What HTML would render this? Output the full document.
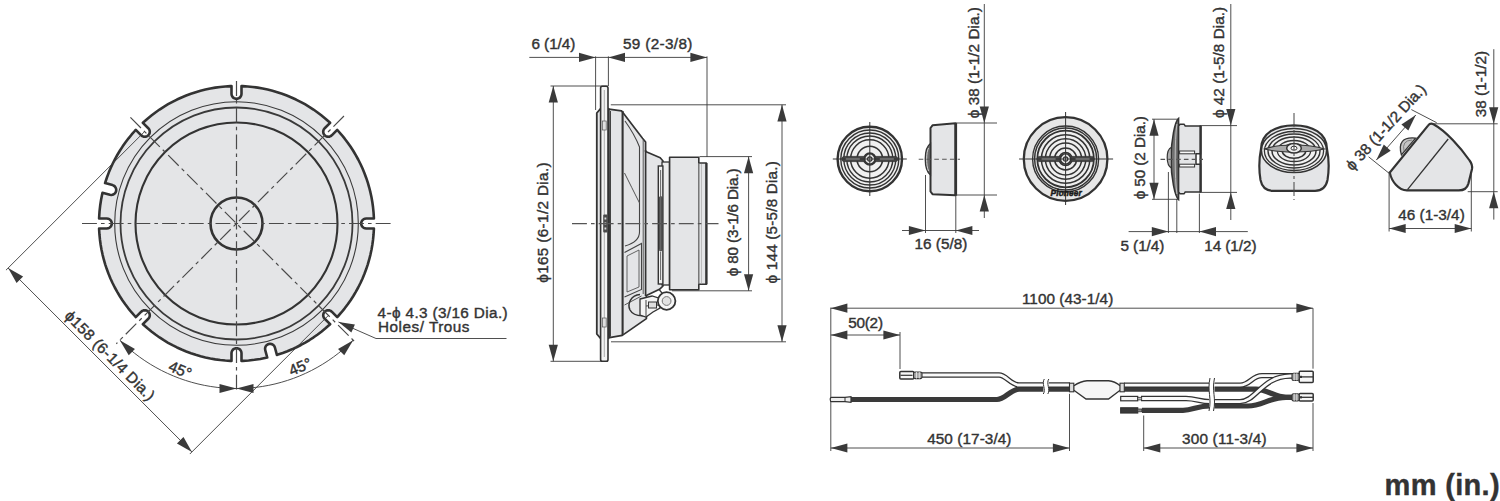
<!DOCTYPE html>
<html><head><meta charset="utf-8"><style>
html,body{margin:0;padding:0;background:#fff;}
svg{display:block;}
text{font-family:"Liberation Sans",sans-serif;stroke:#333;stroke-width:0.4px;}
</style></head><body>
<svg width="1500" height="501" viewBox="0 0 1500 501">
<rect width="1500" height="501" fill="#fff"/>
<polygon points="373.91,228.5 366.2,228.5 364.91,228.33 363.7,227.83 362.66,227.04 361.87,226 361.37,224.79 361.2,223.5 361.37,222.21 361.87,221 362.66,219.96 363.7,219.17 364.91,218.67 366.2,218.5 373.91,218.5 373.86,217.3 373.54,212.28 373.04,207.27 372.35,202.29 371.49,197.34 370.44,192.41 369.21,187.54 367.81,182.71 366.23,177.93 364.47,173.21 362.55,168.57 360.46,163.99 358.2,159.5 355.77,155.09 353.19,150.77 350.45,146.55 347.56,142.43 344.52,138.43 341.34,134.53 338.01,130.75 337.2,129.87 331.75,135.32 330.71,136.12 329.51,136.62 328.21,136.79 326.92,136.62 325.71,136.12 324.68,135.32 323.88,134.29 323.38,133.08 323.21,131.79 323.38,130.49 323.88,129.29 324.68,128.25 330.13,122.8 329.25,121.99 325.47,118.66 321.57,115.48 317.57,112.44 313.45,109.55 309.23,106.81 304.91,104.23 300.5,101.8 296.01,99.54 291.43,97.45 286.79,95.53 282.07,93.77 277.29,92.19 272.46,90.79 267.59,89.56 262.66,88.51 257.71,87.65 252.73,86.96 247.72,86.46 242.7,86.14 241.5,86.09 241.5,93.8 241.33,95.09 240.83,96.3 240.04,97.34 239,98.13 237.79,98.63 236.5,98.8 235.21,98.63 234,98.13 232.96,97.34 232.17,96.3 231.67,95.09 231.5,93.8 231.5,86.09 230.3,86.14 225.28,86.46 220.27,86.96 215.29,87.65 210.34,88.51 205.41,89.56 200.54,90.79 195.71,92.19 190.93,93.77 186.21,95.53 181.57,97.45 176.99,99.54 172.5,101.8 168.09,104.23 163.77,106.81 159.55,109.55 155.43,112.44 151.43,115.48 147.53,118.66 143.75,121.99 142.87,122.8 148.32,128.25 149.12,129.29 149.62,130.49 149.79,131.79 149.62,133.08 149.12,134.29 148.32,135.32 147.29,136.12 146.08,136.62 144.79,136.79 143.49,136.62 142.29,136.12 141.25,135.32 135.8,129.87 134.99,130.75 131.71,134.48 128.56,138.32 125.55,142.28 122.69,146.34 119.98,150.5 117.42,154.75 115.02,159.09 112.77,163.52 110.69,168.03 108.76,172.61 107.01,177.25 105.42,181.96 105.07,183.11 112.51,185.1 113.72,185.6 114.75,186.4 115.55,187.43 116.05,188.64 116.22,189.93 116.05,191.23 115.55,192.43 114.75,193.47 113.72,194.26 112.51,194.76 111.22,194.93 109.93,194.76 102.48,192.77 102.22,193.94 101.07,199.72 100.18,205.55 99.53,211.42 99.14,217.3 99.09,218.5 106.8,218.5 108.09,218.67 109.3,219.17 110.34,219.96 111.13,221 111.63,222.21 111.8,223.5 111.63,224.79 111.13,226 110.34,227.04 109.3,227.83 108.09,228.33 106.8,228.5 99.09,228.5 99.14,229.7 99.46,234.72 99.96,239.73 100.65,244.71 101.51,249.66 102.56,254.59 103.79,259.46 105.19,264.29 106.77,269.07 108.53,273.79 110.45,278.43 112.54,283.01 114.8,287.5 117.23,291.91 119.81,296.23 122.55,300.45 125.44,304.57 128.48,308.57 131.66,312.47 134.99,316.25 135.8,317.13 141.25,311.68 142.29,310.88 143.49,310.38 144.79,310.21 146.08,310.38 147.29,310.88 148.32,311.68 149.12,312.71 149.62,313.92 149.79,315.21 149.62,316.51 149.12,317.71 148.32,318.75 142.87,324.2 143.75,325.01 147.53,328.34 151.43,331.52 155.43,334.56 159.55,337.45 163.77,340.19 168.09,342.77 172.5,345.2 176.99,347.46 181.57,349.55 186.21,351.47 190.93,353.23 195.71,354.81 200.54,356.21 205.41,357.44 210.34,358.49 215.29,359.35 220.27,360.04 225.28,360.54 230.3,360.86 231.5,360.91 231.5,353.2 231.67,351.91 232.17,350.7 232.96,349.66 234,348.87 235.21,348.37 236.5,348.2 237.79,348.37 239,348.87 240.04,349.66 240.83,350.7 241.33,351.91 241.5,353.2 241.5,360.91 242.7,360.86 248.58,360.47 254.45,359.82 260.28,358.93 266.06,357.78 267.23,357.52 265.24,350.07 265.07,348.78 265.24,347.49 265.74,346.28 266.53,345.25 267.57,344.45 268.77,343.95 270.07,343.78 271.36,343.95 272.57,344.45 273.6,345.25 274.4,346.28 274.9,347.49 276.89,354.93 278.04,354.58 282.75,352.99 287.39,351.24 291.97,349.31 296.48,347.23 300.91,344.98 305.25,342.58 309.5,340.02 313.66,337.31 317.72,334.45 321.68,331.44 325.52,328.29 329.25,325.01 330.13,324.2 324.68,318.75 323.88,317.71 323.38,316.51 323.21,315.21 323.38,313.92 323.88,312.71 324.68,311.68 325.71,310.88 326.92,310.38 328.21,310.21 329.51,310.38 330.71,310.88 331.75,311.68 337.2,317.13 338.01,316.25 341.34,312.47 344.52,308.57 347.56,304.57 350.45,300.45 353.19,296.23 355.77,291.91 358.2,287.5 360.46,283.01 362.55,278.43 364.47,273.79 366.23,269.07 367.81,264.29 369.21,259.46 370.44,254.59 371.49,249.66 372.35,244.71 373.04,239.73 373.54,234.72 373.86,229.7" stroke="#333" stroke-width="2.6" fill="#e4e5e7" stroke-linejoin="round" />
<circle cx="236.5" cy="223.5" r="121.8" stroke="#3a3a3a" stroke-width="1.1" fill="none" />
<circle cx="236.5" cy="223.5" r="116" stroke="#3a3a3a" stroke-width="1.8" fill="none" />
<circle cx="236.5" cy="223.5" r="101" stroke="#333" stroke-width="2.1" fill="none" />
<circle cx="236.5" cy="223.5" r="26" stroke="#333" stroke-width="2.6" fill="none" />
<line x1="82" y1="223.5" x2="391" y2="223.5" stroke="#4a4a4a" stroke-width="1.2" stroke-dasharray="14.9 4.1 3.6 4.1" stroke-dashoffset="0"/>
<line x1="236.5" y1="81" x2="236.5" y2="391" stroke="#4a4a4a" stroke-width="1.2" stroke-dasharray="14.9 4.1 3.6 4.1" stroke-dashoffset="0"/>
<line x1="343.98" y1="116.02" x2="116.29" y2="343.71" stroke="#4a4a4a" stroke-width="1.2" stroke-dasharray="14.9 4.1 3.6 4.1" stroke-dashoffset="0"/>
<line x1="130.43" y1="117.43" x2="354.59" y2="341.59" stroke="#4a4a4a" stroke-width="1.2" stroke-dasharray="14.9 4.1 3.6 4.1" stroke-dashoffset="0"/>
<line x1="144.58" y1="131.58" x2="5.98" y2="270.17" stroke="#3b3b3b" stroke-width="0.9" />
<line x1="328.42" y1="315.42" x2="189.83" y2="454.02" stroke="#3b3b3b" stroke-width="0.9" />
<line x1="8.1" y1="268.05" x2="191.95" y2="451.9" stroke="#3b3b3b" stroke-width="0.9" />
<polygon points="8.1,268.05 23.1,276.53 16.59,283.04" fill="#3a3a3a"/>
<polygon points="191.95,451.9 176.96,443.41 183.47,436.9" fill="#3a3a3a"/>
<text transform="translate(110.1 355.3) rotate(45)" x="0" y="5.51" font-size="15.3" text-anchor="middle" font-weight="normal" fill="#333333"  textLength="120" lengthAdjust="spacing">ϕ158 (6-1/4 Dia.)</text>
<polyline points="119.83,340.17 124.5,344.66 129.34,348.97 134.35,353.08 139.52,356.99 144.83,360.69 150.29,364.19 155.88,367.46 161.59,370.52 167.42,373.34 173.36,375.94 179.39,378.3 185.51,380.42 191.71,382.31 197.98,383.94 204.31,385.33 210.69,386.47 217.11,387.36 223.55,387.99 230.02,388.37 236.5,388.5 242.98,388.37 249.45,387.99 255.89,387.36 262.31,386.47 268.69,385.33 275.02,383.94 281.29,382.31 287.49,380.42 293.61,378.3 299.64,375.94 305.58,373.34 311.41,370.52 317.12,367.46 322.71,364.19 328.17,360.69 333.48,356.99 338.65,353.08 343.66,348.97 348.5,344.66 353.17,340.17" stroke="#3b3b3b" stroke-width="0.9" fill="none" stroke-linejoin="round" />
<polygon points="119.83,340.17 134.96,349.08 128.74,355.3" fill="#3a3a3a"/>
<polygon points="236.5,388.5 219.5,392.9 219.5,384.1" fill="#3a3a3a"/>
<polygon points="236.5,388.5 253.5,384.1 253.5,392.9" fill="#3a3a3a"/>
<polygon points="353.17,340.17 344.26,355.3 338.04,349.08" fill="#3a3a3a"/>
<text transform="translate(180.2 369.6) rotate(22.5)" x="0" y="5.51" font-size="15.3" text-anchor="middle" font-weight="normal" fill="#333333" >45°</text>
<text transform="translate(300 366.6) rotate(-22.5)" x="0" y="5.51" font-size="15.3" text-anchor="middle" font-weight="normal" fill="#333333" >45°</text>
<line x1="338.5" y1="322" x2="376" y2="338.5" stroke="#3b3b3b" stroke-width="0.9" />
<line x1="376" y1="338.5" x2="506.5" y2="338.5" stroke="#3b3b3b" stroke-width="0.9" />
<polygon points="338.5,322 354.92,324.42 351.37,332.47" fill="#3a3a3a"/>
<text x="377.6" y="317.6" font-size="15.3" text-anchor="start" font-weight="normal" fill="#333333"  textLength="130" lengthAdjust="spacing">4-ϕ 4.3 (3/16 Dia.)</text>
<text x="378" y="332" font-size="15.3" text-anchor="start" font-weight="normal" fill="#333333"  textLength="91.5" lengthAdjust="spacing">Holes/ Trous</text>
<line x1="595.6" y1="56.4" x2="595.6" y2="110" stroke="#3b3b3b" stroke-width="0.9" />
<line x1="608.4" y1="56.4" x2="608.4" y2="86" stroke="#3b3b3b" stroke-width="0.9" />
<line x1="707" y1="56.4" x2="707" y2="157" stroke="#3b3b3b" stroke-width="0.9" />
<line x1="529.3" y1="57.4" x2="595.6" y2="57.4" stroke="#3b3b3b" stroke-width="0.9" />
<line x1="595.6" y1="57.4" x2="608.4" y2="57.4" stroke="#3b3b3b" stroke-width="0.9" />
<line x1="608.4" y1="57.4" x2="707" y2="57.4" stroke="#3b3b3b" stroke-width="0.9" />
<polygon points="595.6,57.4 579,62 579,52.8" fill="#3a3a3a"/>
<polygon points="608.4,57.4 625,52.8 625,62" fill="#3a3a3a"/>
<polygon points="707,57.4 690.4,62 690.4,52.8" fill="#3a3a3a"/>
<text x="531.5" y="49.3" font-size="15.3" text-anchor="start" font-weight="normal" fill="#333333"  textLength="43.8" lengthAdjust="spacing">6 (1/4)</text>
<text x="622.9" y="49.3" font-size="15.3" text-anchor="start" font-weight="normal" fill="#333333"  textLength="69.5" lengthAdjust="spacing">59 (2-3/8)</text>
<line x1="550.5" y1="86" x2="608" y2="86" stroke="#3b3b3b" stroke-width="0.9" />
<line x1="550.5" y1="361.3" x2="608" y2="361.3" stroke="#3b3b3b" stroke-width="0.9" />
<line x1="553.3" y1="86" x2="553.3" y2="361.3" stroke="#3b3b3b" stroke-width="0.9" />
<polygon points="553.3,86 557.9,102.5 548.7,102.5" fill="#3a3a3a"/>
<polygon points="553.3,361.3 548.7,344.8 557.9,344.8" fill="#3a3a3a"/>
<text transform="translate(542.9 222.55) rotate(-90)" x="0" y="5.51" font-size="15.3" text-anchor="middle" font-weight="normal" fill="#333333"  textLength="120.5" lengthAdjust="spacing">ϕ165 (6-1/2 Dia.)</text>
<line x1="610.8" y1="104.8" x2="786" y2="104.8" stroke="#3b3b3b" stroke-width="0.9" />
<line x1="611" y1="341.8" x2="786" y2="341.8" stroke="#3b3b3b" stroke-width="0.9" />
<line x1="782" y1="104.8" x2="782" y2="341.8" stroke="#3b3b3b" stroke-width="0.9" />
<polygon points="782,104.8 786.6,121.4 777.4,121.4" fill="#3a3a3a"/>
<polygon points="782,341.8 777.4,325.2 786.6,325.2" fill="#3a3a3a"/>
<text transform="translate(771.5 222.3) rotate(-90)" x="0" y="5.51" font-size="15.3" text-anchor="middle" font-weight="normal" fill="#333333"  textLength="122.2" lengthAdjust="spacing">ϕ 144 (5-5/8 Dia.)</text>
<line x1="699.5" y1="156.6" x2="752" y2="156.6" stroke="#3b3b3b" stroke-width="0.9" />
<line x1="672" y1="290.8" x2="752" y2="290.8" stroke="#3b3b3b" stroke-width="0.9" />
<line x1="748.6" y1="156.6" x2="748.6" y2="290.8" stroke="#3b3b3b" stroke-width="0.9" />
<polygon points="748.6,156.6 753.2,173.2 744,173.2" fill="#3a3a3a"/>
<polygon points="748.6,290.8 744,274.2 753.2,274.2" fill="#3a3a3a"/>
<text transform="translate(732.1 222.3) rotate(-90)" x="0" y="5.51" font-size="15.3" text-anchor="middle" font-weight="normal" fill="#333333"  textLength="107.8" lengthAdjust="spacing">ϕ 80 (3-1/6 Dia.)</text>
<polygon points="596.8,113 600.6,108.6 608.5,108.6 608.5,338.4 600.6,338.4 596.8,334" stroke="#333" stroke-width="1.8" fill="#e4e5e7" stroke-linejoin="round" />
<rect x="600.6" y="86.3" width="7.4" height="275" rx="1.8" fill="#f3f3f3" stroke="#333" stroke-width="1.6"/>
<line x1="604.3" y1="90" x2="604.3" y2="357" stroke="#999" stroke-width="0.8" />
<rect x="602.6" y="121" width="3.6" height="9" fill="#e0e0e0" stroke="#555" stroke-width="0.7"/>
<rect x="602.6" y="318" width="3.6" height="9" fill="#e0e0e0" stroke="#555" stroke-width="0.7"/>
<rect x="603.2" y="214.5" width="4.4" height="18" rx="1" fill="#4a4a4a"/>
<rect x="604.5" y="217.5" width="1.8" height="2" fill="#ddd"/>
<rect x="604.5" y="222.5" width="1.8" height="2" fill="#ddd"/>
<rect x="604.5" y="227.5" width="1.8" height="2" fill="#ddd"/>
<polygon points="608.8,109.2 621.5,110.8 642.5,138.2 645.6,142 645.6,151.5 660.2,157.8 663,161 663,286 659.5,289.3 646.4,295.6 646.4,318.6 622.3,335.4 609.5,337.6" stroke="#333" stroke-width="1.7" fill="#e4e5e7" stroke-linejoin="round" />
<line x1="610.4" y1="111" x2="610.4" y2="336.5" stroke="#444" stroke-width="1.2" />
<line x1="622.6" y1="111" x2="622.6" y2="335" stroke="#333" stroke-width="2.1" />
<line x1="643.2" y1="140" x2="643.2" y2="294" stroke="#555" stroke-width="1.0" />
<line x1="645.6" y1="150" x2="645.6" y2="296" stroke="#333" stroke-width="1.7" />
<path d="M625,121 C630,128 636,138 639.5,147 L639.5,232 C639.5,240 632,244 625,246" stroke="#444" stroke-width="1.1" fill="none" />
<path d="M624.5,173 C629,182 634,192 639.5,203" stroke="#555" stroke-width="1.0" fill="none" />
<path d="M624.5,252.5 L641.5,243.5 L641.5,289.5 L624.5,297" stroke="#444" stroke-width="1.1" fill="none" />
<path d="M627,256 L639,250 L639,287 L627,292 Z" stroke="#555" stroke-width="0.9" fill="none" />
<path d="M624.5,305 L641.5,296" stroke="#555" stroke-width="1.0" fill="none" />
<rect x="662" y="162" width="7.5" height="123" fill="#ececec" stroke="#333" stroke-width="1.3"/>
<rect x="658.3" y="166" width="4.6" height="118" fill="#f0f0f0" stroke="#333" stroke-width="1.4"/>
<rect x="659.4" y="196.5" width="2.6" height="54.5" rx="1.3" fill="#666" stroke="#333" stroke-width="0.8"/>
<line x1="660.6" y1="170" x2="660.6" y2="196" stroke="#666" stroke-width="1.0" />
<line x1="660.6" y1="252" x2="660.6" y2="280" stroke="#666" stroke-width="1.0" />
<polygon points="669.6,157.2 698.8,157.2 698.8,163 706.4,163 706.4,284.3 698.8,284.3 698.8,289.8 669.6,289.8" stroke="#333" stroke-width="1.6" fill="#e4e5e7" stroke-linejoin="round" />
<line x1="706.4" y1="163" x2="706.4" y2="284.3" stroke="#333" stroke-width="2.2" />
<line x1="698.8" y1="163" x2="698.8" y2="284.3" stroke="#666" stroke-width="1.3" />
<line x1="701.5" y1="164" x2="701.5" y2="283.5" stroke="#aaa" stroke-width="0.7" />
<path d="M640,294.5 C631,295 627,304 630,310 C633,315.5 640,316 645.3,315.5" stroke="#333" stroke-width="1.5" fill="none" />
<path d="M640,299 L652,296 L660,298.5 L660,308 L653,312 L646,317 L640,315 Z" fill="#f4f4f4" stroke="#333" stroke-width="1.3"/>
<line x1="646" y1="300" x2="646" y2="316" stroke="#444" stroke-width="1.0" />
<line x1="646" y1="306" x2="659" y2="305" stroke="#444" stroke-width="1.0" />
<rect x="648.5" y="302" width="8" height="6" fill="#ddd" stroke="#333" stroke-width="1"/>
<circle cx="666.6" cy="301" r="8.8" stroke="#333" stroke-width="1.8" fill="#f6f6f6" />
<circle cx="666.6" cy="301" r="4.4" stroke="#777" stroke-width="1.0" fill="#e2e2e2" />
<line x1="659" y1="289.3" x2="662" y2="293" stroke="#333" stroke-width="1.3" />
<line x1="572" y1="223.7" x2="718.5" y2="223.7" stroke="#555" stroke-width="1.2" stroke-dasharray="14.9 4.1 3.6 4.1" stroke-dashoffset="0"/>
<circle cx="869.8" cy="159" r="33.3" stroke="none" stroke-width="0" fill="#f0f0f0" />
<circle cx="869.8" cy="159" r="32.2" stroke="#333" stroke-width="2.4" fill="none" />
<circle cx="869.8" cy="159" r="29" stroke="#333" stroke-width="1.4" fill="none" />
<circle cx="869.8" cy="159" r="26" stroke="#333" stroke-width="1.4" fill="none" />
<circle cx="869.8" cy="159" r="23" stroke="#333" stroke-width="1.4" fill="none" />
<circle cx="869.8" cy="159" r="19.2" stroke="#333" stroke-width="1.5" fill="none" />
<circle cx="869.8" cy="159" r="12.8" stroke="#333" stroke-width="1.6" fill="none" />
<circle cx="869.8" cy="159" r="6" stroke="#333" stroke-width="1.5" fill="#ccc" />
<rect x="841.8" y="156.4" width="56" height="5.2" rx="2.6" fill="#444" stroke="#333" stroke-width="0.8"/>
<rect x="845.8" y="158.1" width="14" height="1.8" fill="#aaa"/>
<rect x="879.8" y="158.1" width="14" height="1.8" fill="#aaa"/>
<circle cx="869.8" cy="159" r="5.2" stroke="#333" stroke-width="1.6" fill="#e8e8e8" />
<circle cx="869.8" cy="159" r="2.2" stroke="#333" stroke-width="1.2" fill="#fff" />
<line x1="869.8" y1="122" x2="869.8" y2="196" stroke="#333" stroke-width="1.0" />
<line x1="832.8" y1="159" x2="906.8" y2="159" stroke="#333" stroke-width="1.0" />
<polygon points="930.5,128 932.5,125.3 955.5,123.3 955.5,195.3 932.5,194.2 930.5,191.5" stroke="#333" stroke-width="2.0" fill="#e4e5e7" stroke-linejoin="round" />
<line x1="955.8" y1="123" x2="955.8" y2="195.5" stroke="#333" stroke-width="2.6" />
<path d="M930.5,143.5 C923.5,148 923.5,170 930.5,175 Z" stroke="#333" stroke-width="1.3" fill="#6a6a6a" />
<path d="M928.6,148 C926,152 926,166 928.6,171" stroke="#cfcfcf" stroke-width="1.0" fill="none" />
<line x1="918.7" y1="159.3" x2="960" y2="159.3" stroke="#555" stroke-width="1.1" stroke-dasharray="4.6 3.2"/>
<line x1="956" y1="123" x2="997" y2="123" stroke="#3b3b3b" stroke-width="0.9" />
<line x1="956" y1="195" x2="997" y2="195" stroke="#3b3b3b" stroke-width="0.9" />
<line x1="984.3" y1="4" x2="984.3" y2="218" stroke="#3b3b3b" stroke-width="0.9" />
<polygon points="984.3,123 979.7,106.4 988.9,106.4" fill="#3a3a3a"/>
<polygon points="984.3,195 988.9,211.6 979.7,211.6" fill="#3a3a3a"/>
<text transform="translate(973.1 62.7) rotate(-90)" x="0" y="5.51" font-size="15.3" text-anchor="middle" font-weight="normal" fill="#333333"  textLength="111" lengthAdjust="spacing">ϕ 38 (1-1/2 Dia.)</text>
<line x1="925.5" y1="175" x2="925.5" y2="233" stroke="#3b3b3b" stroke-width="0.9" />
<line x1="955.8" y1="195" x2="955.8" y2="233" stroke="#3b3b3b" stroke-width="0.9" />
<line x1="902" y1="230.5" x2="979" y2="230.5" stroke="#3b3b3b" stroke-width="0.9" />
<polygon points="925.5,230.5 908.9,235.1 908.9,225.9" fill="#3a3a3a"/>
<polygon points="955.8,230.5 972.4,225.9 972.4,235.1" fill="#3a3a3a"/>
<text x="914.5" y="248.7" font-size="15.3" text-anchor="start" font-weight="normal" fill="#333333"  textLength="52.8" lengthAdjust="spacing">16 (5/8)</text>
<circle cx="1065.6" cy="159" r="41.8" stroke="#333" stroke-width="2.3" fill="#e6e6e6" />
<circle cx="1065.6" cy="159" r="33" stroke="#333" stroke-width="1.4" fill="#efefef" />
<circle cx="1065.6" cy="159" r="31" stroke="#333" stroke-width="1.5" fill="none" />
<circle cx="1065.6" cy="159" r="28.3" stroke="#333" stroke-width="1.8" fill="none" />
<circle cx="1065.6" cy="159" r="24.2" stroke="#333" stroke-width="1.5" fill="none" />
<circle cx="1065.6" cy="159" r="20.2" stroke="#333" stroke-width="1.5" fill="none" />
<circle cx="1065.6" cy="159" r="16" stroke="#333" stroke-width="1.5" fill="none" />
<circle cx="1065.6" cy="159" r="11" stroke="#333" stroke-width="1.6" fill="none" />
<circle cx="1065.6" cy="159" r="6.5" stroke="#333" stroke-width="1.5" fill="none" />
<rect x="1037.1" y="156.4" width="57" height="5.2" rx="2.6" fill="#444" stroke="#333" stroke-width="0.8"/>
<rect x="1041.6" y="158.1" width="14" height="1.8" fill="#aaa"/>
<rect x="1075.6" y="158.1" width="14" height="1.8" fill="#aaa"/>
<circle cx="1065.6" cy="159" r="5.2" stroke="#333" stroke-width="1.6" fill="#e8e8e8" />
<circle cx="1065.6" cy="159" r="2.2" stroke="#333" stroke-width="1.2" fill="#fff" />
<line x1="1065.6" y1="112" x2="1065.6" y2="205" stroke="#333" stroke-width="1.0" />
<line x1="1019.1" y1="159" x2="1113.1" y2="159" stroke="#333" stroke-width="1.0" />
<text x="1066.1" y="195.8" font-size="8.2" text-anchor="middle" font-weight="bold" fill="#1a1a1a" font-style="italic" style="stroke:#1a1a1a;stroke-width:0.5px" textLength="31" lengthAdjust="spacing">Pioneer</text>
<path d="M1178.6,118.3 C1175,121 1171,140 1171,159 C1171,178 1175,197 1178.6,199.7 Z" stroke="#333" stroke-width="1.5" fill="#707070" />
<path d="M1176.9,124 C1174.6,140 1174.6,178 1176.9,194" stroke="#c8c8c8" stroke-width="0.9" fill="none" />
<path d="M1171.4,147.3 C1165.8,150 1165.8,165 1171.4,168 Z" stroke="#333" stroke-width="1.2" fill="#b0b0b0" />
<path d="M1178.6,126 L1180,124.2 L1184,124.2 L1185.2,126 L1200.6,126 L1200.6,153.8 L1196,153.8 L1196,164.2 L1200.6,164.2 L1200.6,192 L1185.2,192 L1184,193.8 L1180,193.8 L1178.6,192 Z" stroke="#333" stroke-width="1.5" fill="#e4e5e7" />
<line x1="1200.6" y1="126" x2="1200.6" y2="192" stroke="#333" stroke-width="2.4" />
<rect x="1179.6" y="151" width="15" height="2.8" fill="#fafafa" stroke="#333" stroke-width="1"/>
<rect x="1179.6" y="164.2" width="15" height="2.8" fill="#fafafa" stroke="#333" stroke-width="1"/>
<line x1="1160.5" y1="159.4" x2="1203" y2="159.4" stroke="#555" stroke-width="1.1" stroke-dasharray="4.6 3.2"/>
<line x1="1152" y1="119.2" x2="1178" y2="119.2" stroke="#3b3b3b" stroke-width="0.9" />
<line x1="1152" y1="199.3" x2="1178" y2="199.3" stroke="#3b3b3b" stroke-width="0.9" />
<line x1="1154" y1="119.2" x2="1154" y2="199.3" stroke="#3b3b3b" stroke-width="0.9" />
<polygon points="1154,119.2 1158.6,135.8 1149.4,135.8" fill="#3a3a3a"/>
<polygon points="1154,199.3 1149.4,182.7 1158.6,182.7" fill="#3a3a3a"/>
<text transform="translate(1139.6 157.7) rotate(-90)" x="0" y="5.51" font-size="15.3" text-anchor="middle" font-weight="normal" fill="#333333"  textLength="83.3" lengthAdjust="spacing">ϕ 50 (2 Dia.)</text>
<line x1="1199.5" y1="125.6" x2="1237" y2="125.6" stroke="#3b3b3b" stroke-width="0.9" />
<line x1="1199.5" y1="192.4" x2="1237" y2="192.4" stroke="#3b3b3b" stroke-width="0.9" />
<line x1="1230.8" y1="4" x2="1230.8" y2="220" stroke="#3b3b3b" stroke-width="0.9" />
<polygon points="1230.8,125.6 1226.2,109 1235.4,109" fill="#3a3a3a"/>
<polygon points="1230.8,192.4 1235.4,209 1226.2,209" fill="#3a3a3a"/>
<text transform="translate(1218.2 62.45) rotate(-90)" x="0" y="5.51" font-size="15.3" text-anchor="middle" font-weight="normal" fill="#333333"  textLength="111.3" lengthAdjust="spacing">ϕ 42 (1-5/8 Dia.)</text>
<line x1="1168.4" y1="172" x2="1168.4" y2="233" stroke="#3b3b3b" stroke-width="0.9" />
<line x1="1176.8" y1="199" x2="1176.8" y2="233" stroke="#3b3b3b" stroke-width="0.9" />
<line x1="1199.4" y1="193.5" x2="1199.4" y2="233" stroke="#3b3b3b" stroke-width="0.9" />
<line x1="1128.6" y1="231.6" x2="1247.8" y2="231.6" stroke="#3b3b3b" stroke-width="0.9" />
<polygon points="1168.4,231.6 1151.8,236.2 1151.8,227" fill="#3a3a3a"/>
<polygon points="1199.4,231.6 1216,227 1216,236.2" fill="#3a3a3a"/>
<text x="1120.5" y="251.2" font-size="15.3" text-anchor="start" font-weight="normal" fill="#333333"  textLength="43.8" lengthAdjust="spacing">5 (1/4)</text>
<text x="1204.2" y="251.2" font-size="15.3" text-anchor="start" font-weight="normal" fill="#333333"  textLength="52.3" lengthAdjust="spacing">14 (1/2)</text>
<path d="M1261,149 C1261,133 1276,125.3 1294,125.3 C1312,125.3 1327,133 1327,149 C1329,159 1329,171 1327.5,180 C1326,187.5 1321.5,190.8 1315,190.8 L1273,190.8 C1266.5,190.8 1262,187.5 1260.5,180 C1259,171 1259,159 1261,149 Z" stroke="#333" stroke-width="2.2" fill="#e4e5e7" />
<ellipse cx="1294" cy="150.5" rx="32.6" ry="22" fill="#f1f1f1" stroke="#333" stroke-width="1.6"/>
<ellipse cx="1294" cy="151" rx="29.6" ry="19.5" fill="none" stroke="#333" stroke-width="1.3"/>
<ellipse cx="1294" cy="151" rx="26" ry="17" fill="none" stroke="#333" stroke-width="1.4"/>
<ellipse cx="1294" cy="151" rx="22" ry="14" fill="none" stroke="#333" stroke-width="1.5"/>
<ellipse cx="1294" cy="151" rx="16.6" ry="10.5" fill="none" stroke="#333" stroke-width="1.3"/>
<ellipse cx="1294" cy="151" rx="11.7" ry="7.3" fill="none" stroke="#333" stroke-width="1.5"/>
<path d="M1264.5,149 C1274,145.5 1283,145 1294,145 C1305,145 1314,145.5 1324.5,149 C1314,151.5 1305,152 1294,152 C1283,152 1274,151.5 1264.5,149 Z" fill="#a8a8a8" stroke="#333" stroke-width="1.1"/>
<ellipse cx="1294" cy="148.2" rx="7.3" ry="4.8" fill="#eee" stroke="#333" stroke-width="1.5"/>
<ellipse cx="1294" cy="148.2" rx="3" ry="2" fill="#fff" stroke="#333" stroke-width="1"/>
<line x1="1294" y1="113" x2="1294" y2="200" stroke="#444" stroke-width="1.0" stroke-dasharray="14 3 3 3"/>
<path d="M1428,125.6 C1429.5,123.6 1431.5,123.2 1433.5,124.2 C1446,131 1461,148 1469.6,160.5 C1471.8,163.5 1472.6,166 1472,169 L1468.4,183.6 C1467.2,188 1463.5,190.4 1458.8,190.4 L1407,190.4 C1398.5,190 1391.6,181.5 1389.8,172.6 Z" stroke="#333" stroke-width="2.2" fill="#e4e5e7" />
<line x1="1448.2" y1="139" x2="1407.5" y2="189.6" stroke="#333" stroke-width="1.3" />
<path d="M1401.4,154.9 Q1396.3,136.2 1415.6,138.1 Z" stroke="#333" stroke-width="1.3" fill="#c4c4c4" />
<path d="M1404,151 Q1401.5,140.5 1412,140" stroke="#777" stroke-width="0.9" fill="none" />
<line x1="1390.5" y1="174.4" x2="1368.6" y2="156.8" stroke="#3b3b3b" stroke-width="0.9" />
<line x1="1436.7" y1="122.7" x2="1411.4" y2="109.6" stroke="#3b3b3b" stroke-width="0.9" />
<line x1="1376.3" y1="160.1" x2="1415.8" y2="115" stroke="#3b3b3b" stroke-width="0.9" />
<polygon points="1376.3,160.1 1383.78,144.58 1390.7,150.64" fill="#3a3a3a"/>
<polygon points="1415.8,115 1408.32,130.52 1401.4,124.46" fill="#3a3a3a"/>
<text transform="translate(1385.5 127) rotate(-47.5)" x="0" y="5.51" font-size="15.3" text-anchor="middle" font-weight="normal" fill="#333333"  textLength="110.4" lengthAdjust="spacing">ϕ 38 (1-1/2 Dia.)</text>
<line x1="1431.8" y1="123.8" x2="1497.7" y2="123.8" stroke="#3b3b3b" stroke-width="0.9" />
<line x1="1467.7" y1="191.7" x2="1497.7" y2="191.7" stroke="#3b3b3b" stroke-width="0.9" />
<line x1="1493.8" y1="49.2" x2="1493.8" y2="219.6" stroke="#3b3b3b" stroke-width="0.9" />
<polygon points="1493.7,123.8 1489.1,107.2 1498.3,107.2" fill="#3a3a3a"/>
<polygon points="1493.7,191.7 1498.3,208.3 1489.1,208.3" fill="#3a3a3a"/>
<text transform="translate(1480.9 84) rotate(-90)" x="0" y="5.51" font-size="15.3" text-anchor="middle" font-weight="normal" fill="#333333"  textLength="66.3" lengthAdjust="spacing">38 (1-1/2)</text>
<line x1="1389.1" y1="171.7" x2="1389.1" y2="231.5" stroke="#3b3b3b" stroke-width="0.9" />
<line x1="1471.3" y1="171.7" x2="1471.3" y2="231.5" stroke="#3b3b3b" stroke-width="0.9" />
<line x1="1389.1" y1="228.5" x2="1471.3" y2="228.5" stroke="#3b3b3b" stroke-width="0.9" />
<polygon points="1389.1,228.5 1405.7,223.9 1405.7,233.1" fill="#3a3a3a"/>
<polygon points="1471.3,228.5 1454.7,233.1 1454.7,223.9" fill="#3a3a3a"/>
<text transform="translate(1431.5 214.2) rotate(0)" x="0" y="5.51" font-size="15.3" text-anchor="middle" font-weight="normal" fill="#333333"  textLength="66.5" lengthAdjust="spacing">46 (1-3/4)</text>
<line x1="830.8" y1="307.6" x2="830.8" y2="451" stroke="#3b3b3b" stroke-width="0.9" />
<line x1="1313" y1="308.2" x2="1313" y2="368.7" stroke="#3b3b3b" stroke-width="0.9" />
<line x1="1313" y1="403" x2="1313" y2="451" stroke="#3b3b3b" stroke-width="0.9" />
<line x1="830.8" y1="308.2" x2="1313" y2="308.2" stroke="#3b3b3b" stroke-width="0.9" />
<polygon points="830.8,308.2 847.4,303.6 847.4,312.8" fill="#3a3a3a"/>
<polygon points="1313,308.2 1296.4,312.8 1296.4,303.6" fill="#3a3a3a"/>
<text transform="translate(1067.6 298.4) rotate(0)" x="0" y="5.51" font-size="15.3" text-anchor="middle" font-weight="normal" fill="#333333"  textLength="91.3" lengthAdjust="spacing">1100 (43-1/4)</text>
<line x1="830.8" y1="335" x2="900" y2="335" stroke="#3b3b3b" stroke-width="0.9" />
<line x1="900" y1="332" x2="900" y2="369" stroke="#3b3b3b" stroke-width="0.9" />
<polygon points="830.8,335 847.4,330.4 847.4,339.6" fill="#3a3a3a"/>
<polygon points="900,335 883.4,339.6 883.4,330.4" fill="#3a3a3a"/>
<text transform="translate(865.6 322.9) rotate(0)" x="0" y="5.51" font-size="15.3" text-anchor="middle" font-weight="normal" fill="#333333"  textLength="34.8" lengthAdjust="spacing">50(2)</text>
<line x1="1069.5" y1="393.8" x2="1069.5" y2="451" stroke="#3b3b3b" stroke-width="0.9" />
<line x1="1143.7" y1="415.5" x2="1143.7" y2="451" stroke="#3b3b3b" stroke-width="0.9" />
<line x1="830.8" y1="448" x2="1069.5" y2="448" stroke="#3b3b3b" stroke-width="0.9" />
<line x1="1143.7" y1="448" x2="1313" y2="448" stroke="#3b3b3b" stroke-width="0.9" />
<polygon points="830.8,448 847.4,443.4 847.4,452.6" fill="#3a3a3a"/>
<polygon points="1069.5,448 1052.9,452.6 1052.9,443.4" fill="#3a3a3a"/>
<polygon points="1143.7,448 1160.3,443.4 1160.3,452.6" fill="#3a3a3a"/>
<polygon points="1313,448 1296.4,452.6 1296.4,443.4" fill="#3a3a3a"/>
<text transform="translate(969.3 438) rotate(0)" x="0" y="5.51" font-size="15.3" text-anchor="middle" font-weight="normal" fill="#333333"  textLength="84.3" lengthAdjust="spacing">450 (17-3/4)</text>
<text transform="translate(1224.3 438) rotate(0)" x="0" y="5.51" font-size="15.3" text-anchor="middle" font-weight="normal" fill="#333333"  textLength="84.8" lengthAdjust="spacing">300 (11-3/4)</text>
<path d="M851,399.5 L997,399.5 C1005,399.5 1010,389.5 1019,389.2 L1070,389.2" stroke="#3a3a3a" stroke-width="5.2" fill="none" stroke-linejoin="round" stroke-linecap="butt"/>
<path d="M921,375 L999,375 C1006,375 1011,385 1019,385 L1070,385" stroke="#333" stroke-width="5.4" fill="none" stroke-linejoin="round" stroke-linecap="butt"/>
<path d="M921,375 L999,375 C1006,375 1011,385 1019,385 L1070,385" stroke="#fafafa" stroke-width="2.8" fill="none" stroke-linejoin="round" stroke-linecap="butt"/>
<path d="M1124,389.2 L1256,389.2 C1266,389.2 1276,397.3 1286,397.3 L1293,397.3" stroke="#3a3a3a" stroke-width="5.2" fill="none" stroke-linejoin="round" stroke-linecap="butt"/>
<path d="M1124,385.2 L1240,385.2 C1250,385.2 1252,375.6 1262,375.6 L1293,375.6" stroke="#333" stroke-width="5.4" fill="none" stroke-linejoin="round" stroke-linecap="butt"/>
<path d="M1124,385.2 L1240,385.2 C1250,385.2 1252,375.6 1262,375.6 L1293,375.6" stroke="#fafafa" stroke-width="2.8" fill="none" stroke-linejoin="round" stroke-linecap="butt"/>
<path d="M1142,410.3 L1183,410.3 C1193,410.3 1197,406 1210,406 L1248,406 C1262,406 1270,397.3 1286,397.3 L1293,397.3" stroke="#3a3a3a" stroke-width="5.2" fill="none" stroke-linejoin="round" stroke-linecap="butt"/>
<path d="M1141,398.5 L1186,398.5 C1196,398.5 1200,401.6 1210,401.6 L1240,401.6 C1256,401.6 1262,376.5 1290,376 L1293,376" stroke="#333" stroke-width="5.4" fill="none" stroke-linejoin="round" stroke-linecap="butt"/>
<path d="M1141,398.5 L1186,398.5 C1196,398.5 1200,401.6 1210,401.6 L1240,401.6 C1256,401.6 1262,376.5 1290,376 L1293,376" stroke="#fafafa" stroke-width="2.8" fill="none" stroke-linejoin="round" stroke-linecap="butt"/>
<path d="M1073.5,386 C1078,383 1082,381 1087,380.8 L1108.5,380.8 C1113,381 1117,383 1120.5,386 L1120.5,390 L1108.5,399 L1086,399 L1073.5,390 Z" fill="#f6f6f6" stroke="#333" stroke-width="1.4"/>
<rect x="1069.5" y="383.2" width="4.3" height="8.6" fill="#ddd" stroke="#333" stroke-width="1.1"/>
<rect x="1120" y="383.2" width="4.3" height="8.6" fill="#ddd" stroke="#333" stroke-width="1.1"/>
<rect x="899.8" y="371.6" width="14" height="7.4" rx="1" fill="#f7f7f7" stroke="#333" stroke-width="1.5"/>
<line x1="900.5" y1="375.3" x2="912.5" y2="375.3" stroke="#333" stroke-width="1.2" />
<rect x="913.6" y="372" width="8.4" height="6.6" rx="1.5" fill="#a8a8a8" stroke="#333" stroke-width="1.1"/>
<line x1="916.5" y1="372" x2="916.5" y2="378.6" stroke="#eee" stroke-width="0.8" />
<line x1="919.3" y1="372" x2="919.3" y2="378.6" stroke="#eee" stroke-width="0.8" />
<path d="M831.5,397.3 L845,397.3 L851,396.6 L851,402.4 L845,401.7 L831.5,401.7 C829.8,401.7 829.8,397.3 831.5,397.3 Z" fill="#eee" stroke="#333" stroke-width="1.2"/>
<line x1="845" y1="397" x2="845" y2="402" stroke="#333" stroke-width="1" />
<rect x="1299.2" y="371.3" width="14" height="11.2" rx="1" fill="#f7f7f7" stroke="#333" stroke-width="1.5"/>
<line x1="1301.5" y1="376.9" x2="1313" y2="376.9" stroke="#333" stroke-width="1.3" />
<line x1="1299.2" y1="376.9" x2="1302" y2="376.9" stroke="#333" stroke-width="2.2" />
<rect x="1292" y="373.3" width="7.2" height="7.2" rx="1.5" fill="#9a9a9a" stroke="#333" stroke-width="1.1"/>
<line x1="1294.2" y1="373.3" x2="1294.2" y2="380.5" stroke="#eee" stroke-width="0.8" />
<line x1="1296.8" y1="373.3" x2="1296.8" y2="380.5" stroke="#eee" stroke-width="0.8" />
<rect x="1299.2" y="393.6" width="14" height="7.4" rx="1" fill="#f7f7f7" stroke="#333" stroke-width="1.5"/>
<line x1="1301.5" y1="397.3" x2="1313" y2="397.3" stroke="#333" stroke-width="1.3" />
<line x1="1299.2" y1="397.3" x2="1302" y2="397.3" stroke="#333" stroke-width="2.2" />
<rect x="1292" y="393.7" width="7.2" height="7.2" rx="1.5" fill="#9a9a9a" stroke="#333" stroke-width="1.1"/>
<line x1="1294.2" y1="393.7" x2="1294.2" y2="400.9" stroke="#eee" stroke-width="0.8" />
<line x1="1296.8" y1="393.7" x2="1296.8" y2="400.9" stroke="#eee" stroke-width="0.8" />
<rect x="1120.7" y="396.4" width="17" height="4.4" fill="#f5f5f5" stroke="#333" stroke-width="1.2"/>
<rect x="1120.7" y="407.8" width="17" height="5.2" fill="#3a3a3a" stroke="#333" stroke-width="1.2"/>
<rect x="1137.7" y="397.3" width="4" height="2.6" fill="#bbb" stroke="#333" stroke-width="0.8"/>
<rect x="1137.7" y="409" width="4" height="2.8" fill="#888" stroke="#333" stroke-width="0.8"/>
<rect x="1043.3" y="379" width="5.5" height="15" fill="#fff"/>
<path d="M1044.3,379 C1041.3,383.5 1046.3,389.5 1043.3,394" stroke="#333" stroke-width="1.0" fill="none" />
<path d="M1048.8,379 C1045.8,383.5 1050.8,389.5 1047.8,394" stroke="#333" stroke-width="1.0" fill="none" />
<rect x="1209" y="378" width="5.5" height="33" fill="#fff"/>
<path d="M1210,378 C1207,391.5 1212,397.5 1209,411" stroke="#333" stroke-width="1.0" fill="none" />
<path d="M1214.5,378 C1211.5,391.5 1216.5,397.5 1213.5,411" stroke="#333" stroke-width="1.0" fill="none" />
<text x="1384.6" y="494.8" font-size="29" text-anchor="start" font-weight="bold" fill="#333"  textLength="115" lengthAdjust="spacing">mm (in.)</text>
</svg></body></html>
